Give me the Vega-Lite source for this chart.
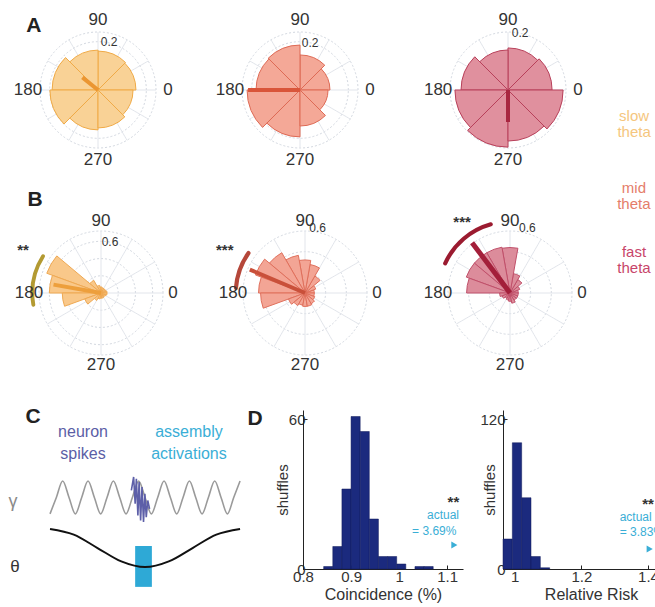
{
"$schema":"https://vega.github.io/schema/vega-lite/v6.json",
"padding":0,
"background":"white",
"config":{"view":{"stroke":null},"font":"Liberation Sans","concat":{"spacing":0}},
"datasets":{
"rings":[
{"plot":"A1","r":0.1},{"plot":"A1","r":0.2},{"plot":"A1","r":0.24},
{"plot":"A2","r":0.1},{"plot":"A2","r":0.2},{"plot":"A2","r":0.24},
{"plot":"A3","r":0.1},{"plot":"A3","r":0.2},
{"plot":"B1","r":0.2},{"plot":"B1","r":0.4},{"plot":"B1","r":0.6},{"plot":"B1","r":0.72},
{"plot":"B2","r":0.2},{"plot":"B2","r":0.4},{"plot":"B2","r":0.6},
{"plot":"B3","r":0.2},{"plot":"B3","r":0.4},{"plot":"B3","r":0.6}],
"spokes":[{"a":0},{"a":30},{"a":60},{"a":90},{"a":120},{"a":150},{"a":180},{"a":210},{"a":240},{"a":270},{"a":300},{"a":330}],
"angles":[{"ang":0,"lab":"0"},{"ang":90,"lab":"90"},{"ang":180,"lab":"180"},{"ang":270,"lab":"270"}],
"mvec":[{"plot":"A1","ang":141,"len":0.083},{"plot":"A2","ang":180,"len":0.215},{"plot":"A3","ang":270,"len":0.11},{"plot":"B1","ang":170,"len":0.56},{"plot":"B2","ang":157,"len":0.58},{"plot":"B3","ang":127,"len":0.61}],
"rose":[
{"plot":"A1","a0":0,"a1":45,"v":0.157},{"plot":"A1","a0":45,"a1":90,"v":0.161},{"plot":"A1","a0":90,"a1":135,"v":0.165},{"plot":"A1","a0":135,"a1":180,"v":0.19},{"plot":"A1","a0":180,"a1":225,"v":0.199},{"plot":"A1","a0":225,"a1":270,"v":0.165},{"plot":"A1","a0":270,"a1":315,"v":0.157},{"plot":"A1","a0":315,"a1":360,"v":0.145},
{"plot":"A2","a0":0,"a1":45,"v":0.124},{"plot":"A2","a0":45,"a1":90,"v":0.145},{"plot":"A2","a0":90,"a1":135,"v":0.186},{"plot":"A2","a0":135,"a1":180,"v":0.182},{"plot":"A2","a0":180,"a1":225,"v":0.219},{"plot":"A2","a0":225,"a1":270,"v":0.194},{"plot":"A2","a0":270,"a1":315,"v":0.149},{"plot":"A2","a0":315,"a1":360,"v":0.116},
{"plot":"A3","a0":0,"a1":45,"v":0.152},{"plot":"A3","a0":45,"a1":90,"v":0.145},{"plot":"A3","a0":90,"a1":135,"v":0.138},{"plot":"A3","a0":135,"a1":180,"v":0.162},{"plot":"A3","a0":180,"a1":225,"v":0.183},{"plot":"A3","a0":225,"a1":270,"v":0.197},{"plot":"A3","a0":270,"a1":315,"v":0.176},{"plot":"A3","a0":315,"a1":360,"v":0.19},
{"plot":"B1","a0":0,"a1":20,"v":0.07},{"plot":"B1","a0":20,"a1":40,"v":0.06},{"plot":"B1","a0":40,"a1":60,"v":0.06},{"plot":"B1","a0":60,"a1":80,"v":0.06},{"plot":"B1","a0":80,"a1":100,"v":0.07},{"plot":"B1","a0":100,"a1":120,"v":0.09},{"plot":"B1","a0":120,"a1":140,"v":0.17},{"plot":"B1","a0":140,"a1":160,"v":0.67},{"plot":"B1","a0":160,"a1":180,"v":0.6},{"plot":"B1","a0":180,"a1":200,"v":0.45},{"plot":"B1","a0":200,"a1":220,"v":0.2},{"plot":"B1","a0":220,"a1":240,"v":0.1},{"plot":"B1","a0":240,"a1":260,"v":0.07},{"plot":"B1","a0":260,"a1":280,"v":0.06},{"plot":"B1","a0":280,"a1":300,"v":0.06},{"plot":"B1","a0":300,"a1":320,"v":0.05},{"plot":"B1","a0":320,"a1":340,"v":0.06},{"plot":"B1","a0":340,"a1":360,"v":0.07},
{"plot":"B2","a0":0,"a1":20,"v":0.09},{"plot":"B2","a0":20,"a1":40,"v":0.11},{"plot":"B2","a0":40,"a1":60,"v":0.19},{"plot":"B2","a0":60,"a1":80,"v":0.28},{"plot":"B2","a0":80,"a1":100,"v":0.32},{"plot":"B2","a0":100,"a1":120,"v":0.37},{"plot":"B2","a0":120,"a1":140,"v":0.45},{"plot":"B2","a0":140,"a1":160,"v":0.51},{"plot":"B2","a0":160,"a1":180,"v":0.45},{"plot":"B2","a0":180,"a1":200,"v":0.43},{"plot":"B2","a0":200,"a1":220,"v":0.17},{"plot":"B2","a0":220,"a1":240,"v":0.14},{"plot":"B2","a0":240,"a1":260,"v":0.12},{"plot":"B2","a0":260,"a1":280,"v":0.13},{"plot":"B2","a0":280,"a1":300,"v":0.13},{"plot":"B2","a0":300,"a1":320,"v":0.12},{"plot":"B2","a0":320,"a1":340,"v":0.1},{"plot":"B2","a0":340,"a1":360,"v":0.09},
{"plot":"B3","a0":0,"a1":20,"v":0.08},{"plot":"B3","a0":20,"a1":40,"v":0.1},{"plot":"B3","a0":40,"a1":60,"v":0.15},{"plot":"B3","a0":60,"a1":80,"v":0.19},{"plot":"B3","a0":80,"a1":100,"v":0.44},{"plot":"B3","a0":100,"a1":120,"v":0.45},{"plot":"B3","a0":120,"a1":140,"v":0.45},{"plot":"B3","a0":140,"a1":160,"v":0.45},{"plot":"B3","a0":160,"a1":180,"v":0.42},{"plot":"B3","a0":180,"a1":200,"v":0.1},{"plot":"B3","a0":200,"a1":220,"v":0.08},{"plot":"B3","a0":220,"a1":240,"v":0.06},{"plot":"B3","a0":240,"a1":260,"v":0.07},{"plot":"B3","a0":260,"a1":280,"v":0.08},{"plot":"B3","a0":280,"a1":300,"v":0.1},{"plot":"B3","a0":300,"a1":320,"v":0.08},{"plot":"B3","a0":320,"a1":340,"v":0.08},{"plot":"B3","a0":340,"a1":360,"v":0.08}],
"gamma":[{"t":0,"v":0.4},{"t":4.17,"v":0.89},{"t":8.33,"v":1.38},{"t":12.5,"v":0.89},{"t":16.67,"v":0.4},{"t":20.83,"v":0.89},{"t":25,"v":1.38},{"t":29.17,"v":0.89},{"t":33.33,"v":0.4},{"t":37.5,"v":0.89},{"t":41.67,"v":1.38},{"t":45.83,"v":0.89},{"t":50,"v":0.4},{"t":54.17,"v":0.89},{"t":58.33,"v":1.38},{"t":62.5,"v":0.89},{"t":66.67,"v":0.4},{"t":70.83,"v":0.89},{"t":75,"v":1.38},{"t":79.17,"v":0.89},{"t":83.33,"v":0.4},{"t":87.5,"v":0.89},{"t":91.67,"v":1.38},{"t":95.83,"v":0.89},{"t":100,"v":0.4},{"t":104.17,"v":0.89},{"t":108.33,"v":1.38},{"t":112.5,"v":0.89},{"t":116.67,"v":0.4},{"t":120.83,"v":0.89},{"t":125,"v":1.38}],
"spikes":[{"t":53.5,"v":1.1},{"t":55,"v":1.5},{"t":56,"v":0.7},{"t":56.8,"v":1.45},{"t":57.8,"v":0.35},{"t":58.6,"v":1.35},{"t":59.6,"v":0.2},{"t":60.5,"v":1.2},{"t":61.5,"v":0.16},{"t":62.4,"v":1.0},{"t":63.3,"v":0.3},{"t":64.3,"v":0.8},{"t":65.5,"v":0.55}],
"theta":[{"t":0,"v":-0.05},{"t":15.63,"v":-0.22},{"t":31.25,"v":-0.62},{"t":46.88,"v":-1.02},{"t":62.5,"v":-1.19},{"t":78.13,"v":-1.02},{"t":93.75,"v":-0.62},{"t":109.38,"v":-0.22},{"t":125,"v":-0.05}],
"bar":[{"t0":56,"t1":67,"v0":-1.78,"v1":-0.56}],
"coinc":[{"lo":0.843,"hi":0.862,"n":1},{"lo":0.862,"hi":0.881,"n":9},{"lo":0.881,"hi":0.9,"n":32},{"lo":0.9,"hi":0.919,"n":61},{"lo":0.919,"hi":0.938,"n":55},{"lo":0.938,"hi":0.957,"n":20},{"lo":0.957,"hi":0.976,"n":5},{"lo":0.976,"hi":0.995,"n":5},{"lo":0.995,"hi":1.014,"n":2},{"lo":1.033,"hi":1.052,"n":1},{"lo":1.052,"hi":1.071,"n":1}],
"rr":[{"lo":0.965,"hi":0.993,"n":24},{"lo":0.993,"hi":1.021,"n":101},{"lo":1.021,"hi":1.049,"n":57},{"lo":1.049,"hi":1.077,"n":10},{"lo":1.077,"hi":1.105,"n":1}]
},
"spacing":0,
"vconcat":[
  {"spacing":0,"bounds":"flush","hconcat":[
   {"width":196,"height":180,"layer":[
    {"data":{"name":"rings"},"transform":[{"filter":"datum.plot==='A1'"}],"mark":{"type":"arc","filled":false,"stroke":"#d3d8e0","strokeWidth":1,"strokeDash":[2,2]},"encoding":{"theta":{"datum":0,"type":"quantitative","scale":{"type":"linear","domain":[90,-270],"range":[0,6.283185307179586],"nice":false,"zero":false}},"theta2":{"datum":360},"radius":{"field":"r","type":"quantitative","stack":null,"scale":{"type":"linear","domain":[0,0.24],"range":[0,58],"nice":false,"zero":false}}}},
    {"data":{"name":"spokes"},"mark":{"type":"arc","filled":false,"stroke":"#e2e5eb","strokeWidth":1,"strokeDash":[2,2]},"encoding":{"theta":{"field":"a","type":"quantitative","stack":null},"theta2":{"field":"a"},"radius":{"datum":0.24,"type":"quantitative","stack":null}}},
    {"data":{"name":"rose"},"transform":[{"filter":"datum.plot==='A1'"}],"mark":{"type":"arc","fill":"#f9d296","stroke":"#f0aa46","strokeWidth":1},"encoding":{"theta":{"field":"a0","type":"quantitative","stack":null},"theta2":{"field":"a1"},"radius":{"field":"v","type":"quantitative","stack":null}}},
    {"data":{"name":"mvec"},"transform":[{"filter":"datum.plot==='A1'"}],"mark":{"type":"arc","filled":false,"stroke":"#eb9632","strokeWidth":4},"encoding":{"theta":{"field":"ang","type":"quantitative","stack":null},"theta2":{"field":"ang"},"radius":{"field":"len","type":"quantitative","stack":null}}},
    {"data":{"name":"angles"},"mark":{"type":"text","fontSize":17,"color":"#333"},"encoding":{"theta":{"field":"ang","type":"quantitative","stack":null},"radius":{"datum":0.29,"type":"quantitative","stack":null},"text":{"field":"lab"}}},
    {"data":{"values":[{}]},"mark":{"type":"text","text":"0.2","fontSize":12,"color":"#333"},"encoding":{"theta":{"datum":77,"type":"quantitative"},"radius":{"datum":0.205,"type":"quantitative"}}},
    {"data":{"values":[{}]},"mark":{"type":"text","text":"A","fontSize":21,"fontWeight":"bold","color":"#222"},"encoding":{"theta":{"datum":135,"type":"quantitative"},"radius":{"datum":0.375,"type":"quantitative"}}}
   ]},
   {"width":208,"height":180,"layer":[
    {"data":{"name":"rings"},"transform":[{"filter":"datum.plot==='A2'"}],"mark":{"type":"arc","filled":false,"stroke":"#d3d8e0","strokeWidth":1,"strokeDash":[2,2]},"encoding":{"theta":{"datum":0,"type":"quantitative","scale":{"type":"linear","domain":[90,-270],"range":[0,6.283185307179586],"nice":false,"zero":false}},"theta2":{"datum":360},"radius":{"field":"r","type":"quantitative","stack":null,"scale":{"type":"linear","domain":[0,0.24],"range":[0,58],"nice":false,"zero":false}}}},
    {"data":{"name":"spokes"},"mark":{"type":"arc","filled":false,"stroke":"#e2e5eb","strokeWidth":1,"strokeDash":[2,2]},"encoding":{"theta":{"field":"a","type":"quantitative","stack":null},"theta2":{"field":"a"},"radius":{"datum":0.24,"type":"quantitative","stack":null}}},
    {"data":{"name":"rose"},"transform":[{"filter":"datum.plot==='A2'"}],"mark":{"type":"arc","fill":"#f4a897","stroke":"#de6a55","strokeWidth":1},"encoding":{"theta":{"field":"a0","type":"quantitative","stack":null},"theta2":{"field":"a1"},"radius":{"field":"v","type":"quantitative","stack":null}}},
    {"data":{"name":"mvec"},"transform":[{"filter":"datum.plot==='A2'"}],"mark":{"type":"arc","filled":false,"stroke":"#d9553a","strokeWidth":4},"encoding":{"theta":{"field":"ang","type":"quantitative","stack":null},"theta2":{"field":"ang"},"radius":{"field":"len","type":"quantitative","stack":null}}},
    {"data":{"name":"angles"},"mark":{"type":"text","fontSize":17,"color":"#333"},"encoding":{"theta":{"field":"ang","type":"quantitative","stack":null},"radius":{"datum":0.29,"type":"quantitative","stack":null},"text":{"field":"lab"}}},
    {"data":{"values":[{}]},"mark":{"type":"text","text":"0.2","fontSize":12,"color":"#333"},"encoding":{"theta":{"datum":78,"type":"quantitative"},"radius":{"datum":0.2,"type":"quantitative"}}}
   ]},
   {"width":208,"height":180,"layer":[
    {"data":{"name":"rings"},"transform":[{"filter":"datum.plot==='A3'"}],"mark":{"type":"arc","filled":false,"stroke":"#d3d8e0","strokeWidth":1,"strokeDash":[2,2]},"encoding":{"theta":{"datum":0,"type":"quantitative","scale":{"type":"linear","domain":[90,-270],"range":[0,6.283185307179586],"nice":false,"zero":false}},"theta2":{"datum":360},"radius":{"field":"r","type":"quantitative","stack":null,"scale":{"type":"linear","domain":[0,0.2],"range":[0,58],"nice":false,"zero":false}}}},
    {"data":{"name":"spokes"},"mark":{"type":"arc","filled":false,"stroke":"#e2e5eb","strokeWidth":1,"strokeDash":[2,2]},"encoding":{"theta":{"field":"a","type":"quantitative","stack":null},"theta2":{"field":"a"},"radius":{"datum":0.2,"type":"quantitative","stack":null}}},
    {"data":{"name":"rose"},"transform":[{"filter":"datum.plot==='A3'"}],"mark":{"type":"arc","fill":"#e0909e","stroke":"#b8405a","strokeWidth":1},"encoding":{"theta":{"field":"a0","type":"quantitative","stack":null},"theta2":{"field":"a1"},"radius":{"field":"v","type":"quantitative","stack":null}}},
    {"data":{"name":"mvec"},"transform":[{"filter":"datum.plot==='A3'"}],"mark":{"type":"arc","filled":false,"stroke":"#a82640","strokeWidth":4},"encoding":{"theta":{"field":"ang","type":"quantitative","stack":null},"theta2":{"field":"ang"},"radius":{"field":"len","type":"quantitative","stack":null}}},
    {"data":{"name":"angles"},"mark":{"type":"text","fontSize":17,"color":"#333"},"encoding":{"theta":{"field":"ang","type":"quantitative","stack":null},"radius":{"datum":0.241,"type":"quantitative","stack":null},"text":{"field":"lab"}}},
    {"data":{"values":[{}]},"mark":{"type":"text","text":"0.2","fontSize":12,"color":"#333"},"encoding":{"theta":{"datum":78,"type":"quantitative"},"radius":{"datum":0.2,"type":"quantitative"}}},
    {"data":{"values":[{}]},"mark":{"type":"text","text":"slow\ntheta","lineBreak":"\n","lineHeight":16,"fontSize":15,"color":"#f5c67e"},"encoding":{"theta":{"datum":348.3,"type":"quantitative"},"radius":{"datum":0.444,"type":"quantitative"}}}
   ]}
  ]},
  {"spacing":0,"bounds":"flush","hconcat":[
   {"width":202,"height":226,"layer":[
    {"data":{"name":"rings"},"transform":[{"filter":"datum.plot==='B1'"}],"mark":{"type":"arc","filled":false,"stroke":"#d3d8e0","strokeWidth":1,"strokeDash":[2,2]},"encoding":{"theta":{"datum":0,"type":"quantitative","scale":{"type":"linear","domain":[90,-270],"range":[0,6.283185307179586],"nice":false,"zero":false}},"theta2":{"datum":360},"radius":{"field":"r","type":"quantitative","stack":null,"scale":{"type":"linear","domain":[0,0.72],"range":[0,62],"nice":false,"zero":false}}}},
    {"data":{"name":"spokes"},"mark":{"type":"arc","filled":false,"stroke":"#e2e5eb","strokeWidth":1,"strokeDash":[2,2]},"encoding":{"theta":{"field":"a","type":"quantitative","stack":null},"theta2":{"field":"a"},"radius":{"datum":0.72,"type":"quantitative","stack":null}}},
    {"data":{"name":"rose"},"transform":[{"filter":"datum.plot==='B1'"}],"mark":{"type":"arc","fill":"#f9c88a","stroke":"#efa953","strokeWidth":1},"encoding":{"theta":{"field":"a0","type":"quantitative","stack":null},"theta2":{"field":"a1"},"radius":{"field":"v","type":"quantitative","stack":null}}},
    {"data":{"name":"mvec"},"transform":[{"filter":"datum.plot==='B1'"}],"mark":{"type":"arc","filled":false,"stroke":"#ed9f3c","strokeWidth":4},"encoding":{"theta":{"field":"ang","type":"quantitative","stack":null},"theta2":{"field":"ang"},"radius":{"field":"len","type":"quantitative","stack":null}}},
    {"data":{"values":[{}]},"mark":{"type":"arc","color":"#b39a32","cornerRadius":2},"encoding":{"theta":{"datum":146,"type":"quantitative"},"theta2":{"datum":191.5},"radius":{"datum":0.82,"type":"quantitative"},"radius2":{"datum":0.775}}},
    {"data":{"name":"angles"},"mark":{"type":"text","fontSize":17,"color":"#333"},"encoding":{"theta":{"field":"ang","type":"quantitative","stack":null},"radius":{"datum":0.836,"type":"quantitative","stack":null},"text":{"field":"lab"}}},
    {"data":{"values":[{}]},"mark":{"type":"text","text":"0.6","fontSize":12,"color":"#333"},"encoding":{"theta":{"datum":80,"type":"quantitative"},"radius":{"datum":0.6,"type":"quantitative"}}},
    {"data":{"values":[{}]},"mark":{"type":"text","text":"**","fontSize":15,"fontWeight":"bold","color":"#333"},"encoding":{"theta":{"datum":151,"type":"quantitative"},"radius":{"datum":1.034,"type":"quantitative"}}},
    {"data":{"values":[{}]},"mark":{"type":"text","text":"B","fontSize":21,"fontWeight":"bold","color":"#222"},"encoding":{"theta":{"datum":125.4,"type":"quantitative"},"radius":{"datum":1.324,"type":"quantitative"}}}
   ]},
   {"width":206,"height":226,"layer":[
    {"data":{"name":"rings"},"transform":[{"filter":"datum.plot==='B2'"}],"mark":{"type":"arc","filled":false,"stroke":"#d3d8e0","strokeWidth":1,"strokeDash":[2,2]},"encoding":{"theta":{"datum":0,"type":"quantitative","scale":{"type":"linear","domain":[90,-270],"range":[0,6.283185307179586],"nice":false,"zero":false}},"theta2":{"datum":360},"radius":{"field":"r","type":"quantitative","stack":null,"scale":{"type":"linear","domain":[0,0.6],"range":[0,62],"nice":false,"zero":false}}}},
    {"data":{"name":"spokes"},"mark":{"type":"arc","filled":false,"stroke":"#e2e5eb","strokeWidth":1,"strokeDash":[2,2]},"encoding":{"theta":{"field":"a","type":"quantitative","stack":null},"theta2":{"field":"a"},"radius":{"datum":0.6,"type":"quantitative","stack":null}}},
    {"data":{"name":"rose"},"transform":[{"filter":"datum.plot==='B2'"}],"mark":{"type":"arc","fill":"#f3a595","stroke":"#e0705c","strokeWidth":1},"encoding":{"theta":{"field":"a0","type":"quantitative","stack":null},"theta2":{"field":"a1"},"radius":{"field":"v","type":"quantitative","stack":null}}},
    {"data":{"name":"mvec"},"transform":[{"filter":"datum.plot==='B2'"}],"mark":{"type":"arc","filled":false,"stroke":"#c9503a","strokeWidth":4},"encoding":{"theta":{"field":"ang","type":"quantitative","stack":null},"theta2":{"field":"ang"},"radius":{"field":"len","type":"quantitative","stack":null}}},
    {"data":{"values":[{}]},"mark":{"type":"arc","color":"#b5473a","cornerRadius":2},"encoding":{"theta":{"datum":143,"type":"quantitative"},"theta2":{"datum":177.5},"radius":{"datum":0.69,"type":"quantitative"},"radius2":{"datum":0.65}}},
    {"data":{"name":"angles"},"mark":{"type":"text","fontSize":17,"color":"#333"},"encoding":{"theta":{"field":"ang","type":"quantitative","stack":null},"radius":{"datum":0.697,"type":"quantitative","stack":null},"text":{"field":"lab"}}},
    {"data":{"values":[{}]},"mark":{"type":"text","text":"0.6","fontSize":12,"color":"#333"},"encoding":{"theta":{"datum":79,"type":"quantitative"},"radius":{"datum":0.64,"type":"quantitative"}}},
    {"data":{"values":[{}]},"mark":{"type":"text","text":"***","fontSize":15,"fontWeight":"bold","color":"#333"},"encoding":{"theta":{"datum":152,"type":"quantitative"},"radius":{"datum":0.88,"type":"quantitative"}}}
   ]},
   {"width":204,"height":226,"layer":[
    {"data":{"name":"rings"},"transform":[{"filter":"datum.plot==='B3'"}],"mark":{"type":"arc","filled":false,"stroke":"#d3d8e0","strokeWidth":1,"strokeDash":[2,2]},"encoding":{"theta":{"datum":0,"type":"quantitative","scale":{"type":"linear","domain":[90,-270],"range":[0,6.283185307179586],"nice":false,"zero":false}},"theta2":{"datum":360},"radius":{"field":"r","type":"quantitative","stack":null,"scale":{"type":"linear","domain":[0,0.6],"range":[0,62],"nice":false,"zero":false}}}},
    {"data":{"name":"spokes"},"mark":{"type":"arc","filled":false,"stroke":"#e2e5eb","strokeWidth":1,"strokeDash":[2,2]},"encoding":{"theta":{"field":"a","type":"quantitative","stack":null},"theta2":{"field":"a"},"radius":{"datum":0.6,"type":"quantitative","stack":null}}},
    {"data":{"name":"rose"},"transform":[{"filter":"datum.plot==='B3'"}],"mark":{"type":"arc","fill":"#dc8c9b","stroke":"#c0506a","strokeWidth":1},"encoding":{"theta":{"field":"a0","type":"quantitative","stack":null},"theta2":{"field":"a1"},"radius":{"field":"v","type":"quantitative","stack":null}}},
    {"data":{"name":"mvec"},"transform":[{"filter":"datum.plot==='B3'"}],"mark":{"type":"arc","filled":false,"stroke":"#a31f3a","strokeWidth":5},"encoding":{"theta":{"field":"ang","type":"quantitative","stack":null},"theta2":{"field":"ang"},"radius":{"field":"len","type":"quantitative","stack":null}}},
    {"data":{"values":[{}]},"mark":{"type":"arc","color":"#9b1b30","cornerRadius":2},"encoding":{"theta":{"datum":104,"type":"quantitative"},"theta2":{"datum":157},"radius":{"datum":0.71,"type":"quantitative"},"radius2":{"datum":0.67}}},
    {"data":{"name":"angles"},"mark":{"type":"text","fontSize":17,"color":"#333"},"encoding":{"theta":{"field":"ang","type":"quantitative","stack":null},"radius":{"datum":0.697,"type":"quantitative","stack":null},"text":{"field":"lab"}}},
    {"data":{"values":[{}]},"mark":{"type":"text","text":"0.6","fontSize":12,"color":"#333"},"encoding":{"theta":{"datum":75,"type":"quantitative"},"radius":{"datum":0.65,"type":"quantitative"}}},
    {"data":{"values":[{}]},"mark":{"type":"text","text":"***","fontSize":15,"fontWeight":"bold","color":"#333"},"encoding":{"theta":{"datum":124,"type":"quantitative"},"radius":{"datum":0.83,"type":"quantitative"}}},
    {"data":{"values":[{}]},"mark":{"type":"text","text":"mid\ntheta","lineBreak":"\n","lineHeight":16,"fontSize":15,"color":"#e57d6a"},"encoding":{"theta":{"datum":40.3,"type":"quantitative"},"radius":{"datum":1.572,"type":"quantitative"}}},
    {"data":{"values":[{}]},"mark":{"type":"text","text":"fast\ntheta","lineBreak":"\n","lineHeight":16,"fontSize":15,"color":"#c8456a"},"encoding":{"theta":{"datum":18.3,"type":"quantitative"},"radius":{"datum":1.264,"type":"quantitative"}}}
   ]}
  ]},
{"spacing":0,"bounds":"flush","hconcat":[
 {"width":303,"height":201,"layer":[
  {"data":{"name":"bar"},"mark":{"type":"rect","color":"#2ea9d6"},"encoding":{"x":{"field":"t0","type":"quantitative","scale":{"domain":[-32.9,166.4],"nice":false,"zero":false},"axis":null},"x2":{"field":"t1"},"y":{"field":"v0","type":"quantitative","scale":{"domain":[-2.5,3.5],"nice":false,"zero":false},"axis":null},"y2":{"field":"v1"}}},
  {"data":{"name":"gamma"},"mark":{"type":"line","color":"#9a9a9a","strokeWidth":1.6,"interpolate":"monotone"},"encoding":{"x":{"field":"t","type":"quantitative","axis":null},"y":{"field":"v","type":"quantitative","axis":null}}},
  {"data":{"name":"spikes"},"mark":{"type":"line","color":"#5d5fa8","strokeWidth":1.6},"encoding":{"x":{"field":"t","type":"quantitative","axis":null},"y":{"field":"v","type":"quantitative","axis":null}}},
  {"data":{"name":"theta"},"mark":{"type":"line","color":"#111","strokeWidth":2,"interpolate":"monotone"},"encoding":{"x":{"field":"t","type":"quantitative","axis":null},"y":{"field":"v","type":"quantitative","axis":null}}},
  {"data":{"values":[{}]},"mark":{"type":"text","text":"C","fontSize":21,"fontWeight":"bold","color":"#222"},"encoding":{"x":{"datum":-11.2,"type":"quantitative","axis":null},"y":{"datum":3.29,"type":"quantitative","axis":null}}},
  {"data":{"values":[{}]},"mark":{"type":"text","text":"D","fontSize":21,"fontWeight":"bold","color":"#222"},"encoding":{"x":{"datum":134.9,"type":"quantitative","axis":null},"y":{"datum":3.23,"type":"quantitative","axis":null}}},
  {"data":{"values":[{}]},"mark":{"type":"text","text":"neuron\nspikes","lineBreak":"\n","lineHeight":22,"fontSize":16,"color":"#5b5ea6"},"encoding":{"x":{"datum":21.7,"type":"quantitative","axis":null},"y":{"datum":2.84,"type":"quantitative","axis":null}}},
  {"data":{"values":[{}]},"mark":{"type":"text","text":"assembly\nactivations","lineBreak":"\n","lineHeight":22,"fontSize":16,"color":"#3aaed6"},"encoding":{"x":{"datum":91.4,"type":"quantitative","axis":null},"y":{"datum":2.84,"type":"quantitative","axis":null}}},
  {"data":{"values":[{}]},"mark":{"type":"text","text":"γ","fontSize":18,"color":"#8a8a8a"},"encoding":{"x":{"datum":-24.3,"type":"quantitative","axis":null},"y":{"datum":0.75,"type":"quantitative","axis":null}}},
  {"data":{"values":[{}]},"mark":{"type":"text","text":"θ","fontSize":17,"color":"#333"},"encoding":{"x":{"datum":-23,"type":"quantitative","axis":null},"y":{"datum":-1.19,"type":"quantitative","axis":null}}}
 ]},
 {"width":160,"height":159,"layer":[
  {"data":{"name":"coinc"},"mark":{"type":"rect","color":"#1b2a7e","stroke":"#101a5a","strokeWidth":0.5},"encoding":{
    "x":{"field":"lo","type":"quantitative","scale":{"domain":[0.8,1.133],"nice":false,"zero":false},"axis":{"values":[0.8,0.9,1,1.1],"labelExpr":"''+datum.value","title":"Coincidence (%)","grid":false,"tickSize":-4,"labelPadding":4,"labelFontSize":15,"titleFontSize":16,"titleFontWeight":"normal","titlePadding":2,"domainColor":"#222","tickColor":"#222","labelColor":"#333","titleColor":"#333","labelFlush":false,"labelOverlap":false}},
    "x2":{"field":"hi"},
    "y":{"field":"n","type":"quantitative","scale":{"domain":[0,63.6],"nice":false,"zero":false},"axis":{"values":[0,60],"title":"shuffles","grid":false,"tickSize":-4,"labelPadding":2,"labelFontSize":15,"titleFontSize":15,"titleFontWeight":"normal","titlePadding":-2,"domainColor":"#222","tickColor":"#222","labelColor":"#333","titleColor":"#333","labelFlush":false}},
    "y2":{"datum":0}}},
  {"data":{"values":[{}]},"mark":{"type":"text","text":"**","fontSize":15,"fontWeight":"bold","color":"#333"},"encoding":{"x":{"datum":1.113,"type":"quantitative"},"y":{"datum":26.8,"type":"quantitative"}}},
  {"data":{"values":[{}]},"mark":{"type":"text","text":"actual","fontSize":12,"align":"left","color":"#3aaed6"},"encoding":{"x":{"datum":1.058,"type":"quantitative"},"y":{"datum":21.6,"type":"quantitative"}}},
  {"data":{"values":[{}]},"mark":{"type":"text","text":"= 3.69%","fontSize":12,"align":"left","color":"#3aaed6"},"encoding":{"x":{"datum":1.027,"type":"quantitative"},"y":{"datum":15.2,"type":"quantitative"}}},
  {"data":{"values":[{}]},"mark":{"type":"point","shape":"triangle-right","filled":true,"size":50,"color":"#3aaed6","opacity":1},"encoding":{"x":{"datum":1.115,"type":"quantitative"},"y":{"datum":9.6,"type":"quantitative"}}}
 ]},
 {"width":40,"height":159,"data":{"values":[{}]},"mark":{"type":"text","text":""}},
 {"width":152,"height":159,"layer":[
  {"data":{"name":"rr"},"mark":{"type":"rect","color":"#1b2a7e","stroke":"#101a5a","strokeWidth":0.5},"encoding":{
    "x":{"field":"lo","type":"quantitative","scale":{"domain":[0.965,1.421],"nice":false,"zero":false},"axis":{"values":[1,1.2,1.4],"labelExpr":"''+datum.value","title":"Relative Risk","titleX":88,"grid":false,"tickSize":-4,"labelPadding":4,"labelFontSize":15,"titleFontSize":16,"titleFontWeight":"normal","titlePadding":2,"domainColor":"#222","tickColor":"#222","labelColor":"#333","titleColor":"#333","labelFlush":false,"labelOverlap":false}},
    "x2":{"field":"hi"},
    "y":{"field":"n","type":"quantitative","scale":{"domain":[0,127.2],"nice":false,"zero":false},"axis":{"values":[0,120],"title":"shuffles","grid":false,"tickSize":-4,"labelPadding":2,"labelFontSize":15,"titleFontSize":15,"titleFontWeight":"normal","titlePadding":-18,"domainColor":"#222","tickColor":"#222","labelColor":"#333","titleColor":"#333","labelFlush":false}},
    "y2":{"datum":0}}},
  {"data":{"values":[{}]},"mark":{"type":"text","text":"**","fontSize":15,"fontWeight":"bold","color":"#333","clip":true},"encoding":{"x":{"datum":1.4,"type":"quantitative"},"y":{"datum":52,"type":"quantitative"}}},
  {"data":{"values":[{}]},"mark":{"type":"text","text":"actual","fontSize":12,"align":"left","color":"#3aaed6","clip":true},"encoding":{"x":{"datum":1.315,"type":"quantitative"},"y":{"datum":41.6,"type":"quantitative"}}},
  {"data":{"values":[{}]},"mark":{"type":"text","text":"= 3.83%","fontSize":12,"align":"left","color":"#3aaed6","clip":true},"encoding":{"x":{"datum":1.315,"type":"quantitative"},"y":{"datum":29.6,"type":"quantitative"}}},
  {"data":{"values":[{}]},"mark":{"type":"point","shape":"triangle-right","filled":true,"size":50,"color":"#3aaed6","opacity":1,"clip":true},"encoding":{"x":{"datum":1.405,"type":"quantitative"},"y":{"datum":16,"type":"quantitative"}}}
 ]}
]}
]
}
